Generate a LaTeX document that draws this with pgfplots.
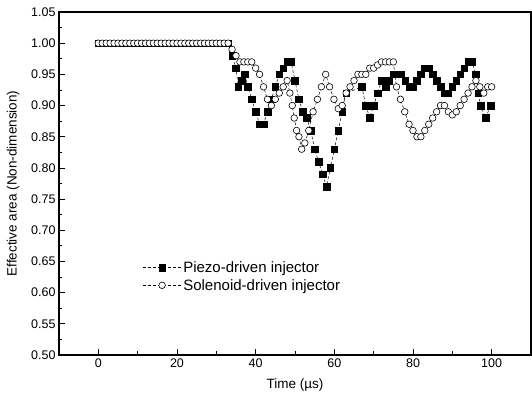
\documentclass[border=0pt]{standalone}
\usepackage{fontspec}
\setmainfont{Liberation Sans}
\usepackage{pgfplots}
\pgfplotsset{compat=1.18}
\begin{document}
\begin{tikzpicture}
\begin{axis}[
  scale only axis, width=472bp, height=343bp,
  xmin=-10, xmax=110, ymin=0.5, ymax=1.05,
  xtick={0,20,40,60,80,100}, minor x tick num=1,
  ytick={0.50,0.55,0.60,0.65,0.70,0.75,0.80,0.85,0.90,0.95,1.00,1.05}, minor y tick num=1,
  tick pos=left, tick align=inside,
  major tick length=6bp, minor tick length=3.5bp,
  axis line style={line width=1.2bp},
  every tick/.style={black, line width=0.8bp},
  /pgf/number format/assume math mode=true,
  yticklabel style={/pgf/number format/.cd, fixed, fixed zerofill, precision=2},
  ticklabel style={font=\fontsize{12.5bp}{14bp}\selectfont},
  xlabel={Time (µs)}, ylabel={Effective area (Non-dimension)},
  label style={font=\fontsize{13.5bp}{15bp}\selectfont},
  xlabel style={yshift=-5bp},
  ylabel style={yshift=5bp},
  legend style={draw=none, fill=none, at={(axis cs:10.5,0.657)}, anchor=north west,
    font=\fontsize{15bp}{17bp}\selectfont, row sep=1.5bp,
    nodes={inner sep=2bp}},
  legend cell align=left,
  legend image code/.code={
    \draw[mark repeat=2, mark phase=2, #1] plot coordinates {(0bp,0bp) (19bp,0bp) (38bp,0bp)};
  },
]
\addplot[black, line width=0.5bp, densely dashed, mark=square*, mark size=3.3bp,
  mark options={solid, fill=black}] coordinates {
 (0,1.00) (1,1.00) (2,1.00) (3,1.00) (4,1.00) (5,1.00) (6,1.00) (7,1.00) (8,1.00) (9,1.00)
 (10,1.00) (11,1.00) (12,1.00) (13,1.00) (14,1.00) (15,1.00) (16,1.00) (17,1.00) (18,1.00) (19,1.00)
 (20,1.00) (21,1.00) (22,1.00) (23,1.00) (24,1.00) (25,1.00) (26,1.00) (27,1.00) (28,1.00) (29,1.00)
 (30,1.00) (31,1.00) (32,1.00) (33,1.00)
 (34,0.98) (35,0.96) (35.6,0.93) (36.4,0.94) (37.2,0.95) (38,0.93) (39,0.91) (40,0.89) (41,0.87) (42,0.87)
 (43,0.89) (44,0.91) (45,0.93) (46,0.95) (47,0.96) (48,0.97) (49,0.97) (50,0.94) (51,0.91) (52,0.89)
 (53,0.88) (54,0.86) (55,0.83) (56,0.81) (57,0.79) (58,0.77) (59,0.80) (60,0.83) (61,0.86) (62,0.89)
 (63,0.92) (67,0.93) (68,0.90) (69,0.88) (70,0.90) (71,0.92) (72,0.94) (73,0.93) (74,0.94) (75,0.95)
 (76,0.95) (77,0.95) (78,0.94) (79,0.93) (80,0.93) (81,0.94) (82,0.95) (83,0.96) (84,0.96) (85,0.95)
 (86,0.94) (87,0.93) (88,0.92) (89,0.92) (90,0.93) (91,0.94) (92,0.95) (93,0.96) (94,0.97) (95,0.97)
 (96,0.95) (96.6,0.92) (97.2,0.90) (98.5,0.88) (99.7,0.90)
};
\addlegendentry{Piezo-driven injector}
\addplot[black, line width=0.5bp, densely dashed, mark=*, mark size=3.3bp,
  mark options={solid, fill=white, draw=black, line width=0.6bp}] coordinates {
 (0,1.00) (1,1.00) (2,1.00) (3,1.00) (4,1.00) (5,1.00) (6,1.00) (7,1.00) (8,1.00) (9,1.00)
 (10,1.00) (11,1.00) (12,1.00) (13,1.00) (14,1.00) (15,1.00) (16,1.00) (17,1.00) (18,1.00) (19,1.00)
 (20,1.00) (21,1.00) (22,1.00) (23,1.00) (24,1.00) (25,1.00) (26,1.00) (27,1.00) (28,1.00) (29,1.00)
 (30,1.00) (31,1.00) (32,1.00) (33,1.00)
 (34,0.99) (35,0.98) (36,0.97) (37,0.97) (38,0.97) (39,0.97) (40,0.96) (41,0.95) (42,0.93) (43,0.91)
 (44,0.90) (45,0.91) (46,0.92) (47,0.93) (48,0.94) (48.7,0.92) (49.3,0.90) (49.8,0.88) (50.4,0.86) (51,0.85)
 (51.7,0.83) (52.5,0.84) (53.5,0.86) (54.6,0.89) (55.7,0.91) (56.7,0.93) (57.8,0.95) (58.8,0.93) (59.9,0.91) (61,0.895)
 (62,0.90) (63,0.92) (64,0.93) (65,0.94) (66,0.95) (67,0.95) (68,0.95) (69,0.96) (70,0.96) (71,0.965)
 (72,0.97) (73,0.97) (74,0.97) (75,0.97) (75.8,0.93) (76.8,0.91) (77.9,0.89) (79,0.87) (80,0.86) (81,0.85)
 (82,0.85) (83,0.86) (84,0.87) (85,0.88) (86,0.89) (87,0.90) (88,0.90) (89,0.89) (90,0.885) (91,0.89)
 (92,0.90) (93,0.91) (94,0.92) (95,0.93) (96,0.94) (97,0.93) (98,0.92) (99,0.93) (100,0.93)
};
\addlegendentry{Solenoid-driven injector}
\end{axis}
\pgfresetboundingbox
\path ([shift={(-59bp,-43bp)}]current axis.south west) rectangle ([shift={(1bp,12bp)}]current axis.north east);
\end{tikzpicture}
\end{document}
